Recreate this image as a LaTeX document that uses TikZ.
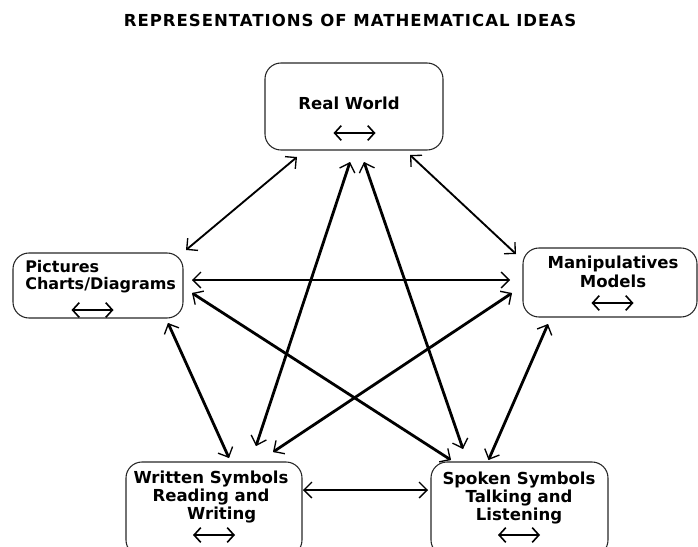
\documentclass[tikz,border=0pt]{standalone}
\usepackage{fontspec}
\setmainfont{DejaVu Sans}
\usetikzlibrary{calc,arrows.meta}

\begin{document}
\begin{tikzpicture}[x=0.75pt,y=-0.75pt,line cap=round,line join=round,
  box/.style={draw=black!85,line width=0.8pt,rounded corners=12pt,inner sep=0pt,outer sep=0pt},
  tag/.style={font=\bfseries\fontsize{12.4}{13.8}\selectfont,inner sep=0pt,align=center},
  link/.style={line width=2.1pt,{Straight Barb[length=6pt,width=12pt,line width=1pt]}-{Straight Barb[length=6pt,width=12pt,line width=1pt]}},
  thinlink/.style={link,line width=1.4pt},
  twoway/.style={line width=1.6pt,{Straight Barb[length=5pt,width=11pt,line width=1.2pt]}-{Straight Barb[length=5pt,width=11pt,line width=1.2pt]}}]
  \useasboundingbox (0,0) rectangle (698,546);
  \clip (0,0) rectangle (698,546);
  \node[tag] (title) at (350,20) {\addfontfeatures{LetterSpace=6}REPRESENTATIONS OF MATHEMATICAL IDEAS};
  % boxes
  \node[box,minimum width=133.5pt,minimum height=65.25pt] (rw) at (354,106.5) {};
  \node[box,minimum width=127.5pt,minimum height=48.75pt] (pic) at (98,285.5) {};
  \node[box,minimum width=130.5pt,minimum height=51.75pt] (man) at (610,282.5) {};
  \node[box,minimum width=132pt,minimum height=70.5pt] (wri) at (214,509) {};
  \node[box,minimum width=132.75pt,minimum height=70.5pt] (spo) at (519.5,509) {};
  % labels
  \node[tag] (rwtext) at (349,103) {Real World};
  \node[tag,anchor=west,align=left,font=\bfseries\fontsize{12}{13}\selectfont] (pictext) at (25,276.5) {Pictures\\Charts/Diagrams};
  \node[tag] (mantext) at (613,272) {Manipulatives\\Models};
  \node[tag] (writext) at (211,497) {Written Symbols\\Reading and\hspace*{12pt}\\\hspace*{16pt}Writing};
  \node[tag] (spotext) at (519,498) {Spoken Symbols\\Talking and\\Listening};
  % small two-way arrows
  \foreach \b/\x/\y in {rw/354.5/133,pic/92.5/310,man/612.5/303,wri/214/535,spo/519/535}{
    \draw[twoway] (\x-21,\y) -- (\x+21,\y);
  }
  % links
  \draw[thinlink] ($(rw.south)+(-57,7)$) -- ($(pic.north east)+(3,-3)$);
  \draw[thinlink] ($(rw.south)+(56,5)$) -- ($(man.north west)+(-7,6)$);
  \draw[link] ($(rw.south)+(-4,12)$) -- ($(wri.north)+(42,-16)$);
  \draw[link] ($(rw.south)+(10,12)$) -- ($(spo.north west)+(32,-13)$);
  \draw[link] ($(pic.east)+(9,-5.5)$) -- ($(man.west)+(-13,-2.5)$);
  \draw[link] ($(pic.east)+(9,7.5)$) -- ($(spo.north west)+(20,-2)$);
  \draw[link] ($(man.west)+(-11,10.5)$) -- ($(wri.north east)+(-29,-10)$);
  \draw[link] ($(pic.south east)+(-15,5)$) -- ($(wri.north)+(15,-4)$);
  \draw[link] ($(man.south)+(-62,7)$) -- ($(spo.north)+(-31,-2)$);
  \draw[link] ($(wri.east)+(1,-19)$) -- ($(spo.west)+(-3,-19)$);
\end{tikzpicture}
\end{document}
